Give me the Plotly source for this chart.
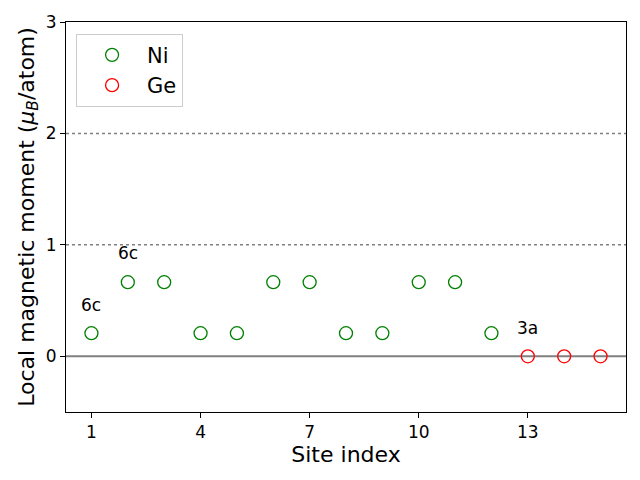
import plotly.graph_objects as go

ni_sites = [1, 2, 3, 4, 5, 6, 7, 8, 9, 10, 11, 12]
ni_moments = [0.207, 0.665, 0.665, 0.207, 0.207, 0.665, 0.665, 0.207, 0.207, 0.665, 0.665, 0.207]
ge_sites = [13, 14, 15]
ge_moments = [0.0, 0.0, 0.0]

label_text = ["6c", "6c", "3a"]
label_x = [1, 2, 13]
label_y = [0.355, 0.815, 0.15]

x_ticks = [1, 4, 7, 10, 13]
y_ticks = [0, 1, 2, 3]
ref_dotted = [1, 2]

fig = go.Figure()
fig.add_trace(go.Scatter(x=ni_sites, y=ni_moments, mode="markers", name="Ni",
                         marker=dict(symbol="circle-open", size=13, color="green",
                                     line=dict(width=1.3, color="green"))))
fig.add_trace(go.Scatter(x=ge_sites, y=ge_moments, mode="markers", name="Ge",
                         marker=dict(symbol="circle-open", size=13, color="red",
                                     line=dict(width=1.3, color="red"))))

for yv in ref_dotted:
    fig.add_hline(y=yv, line=dict(color="gray", width=1.5, dash="dot"), layer="below")
fig.add_hline(y=0, line=dict(color="gray", width=2), layer="below")

for t, xv, yv in zip(label_text, label_x, label_y):
    fig.add_annotation(x=xv, y=yv, text=t, showarrow=False, yanchor="bottom",
                       font=dict(size=17, color="black"))

axis_common = dict(showline=True, linecolor="black", linewidth=1, mirror=True,
                   ticks="outside", ticklen=5, tickcolor="black", showgrid=False,
                   zeroline=False, tickfont=dict(size=17, color="black"),
                   automargin=False)

fig.update_xaxes(range=[0.3, 15.7], tickvals=x_ticks,
                 title=dict(text="Site index", font=dict(size=22, color="black"), standoff=5),
                 **axis_common)
fig.update_yaxes(range=[-0.5, 3], tickvals=y_ticks,
                 title=dict(text="Local magnetic moment (<i>μ</i><sub><i>B</i></sub>/atom)",
                            font=dict(size=22, color="black"), standoff=5),
                 **axis_common)

fig.update_layout(width=640, height=480, margin=dict(l=66, r=14, t=22, b=68),
                  paper_bgcolor="white", plot_bgcolor="white",
                  font=dict(family="DejaVu Sans", color="black"),
                  legend=dict(x=0.018, y=0.97, xanchor="left", yanchor="top",
                              bgcolor="rgba(255,255,255,0.8)", bordercolor="#cccccc",
                              borderwidth=1, font=dict(size=21), itemwidth=60,
                              tracegroupgap=0),
                  showlegend=True)

fig.write_html("out.html", config={"displayModeBar": False},
               post_script="document.body.style.margin='0';")
